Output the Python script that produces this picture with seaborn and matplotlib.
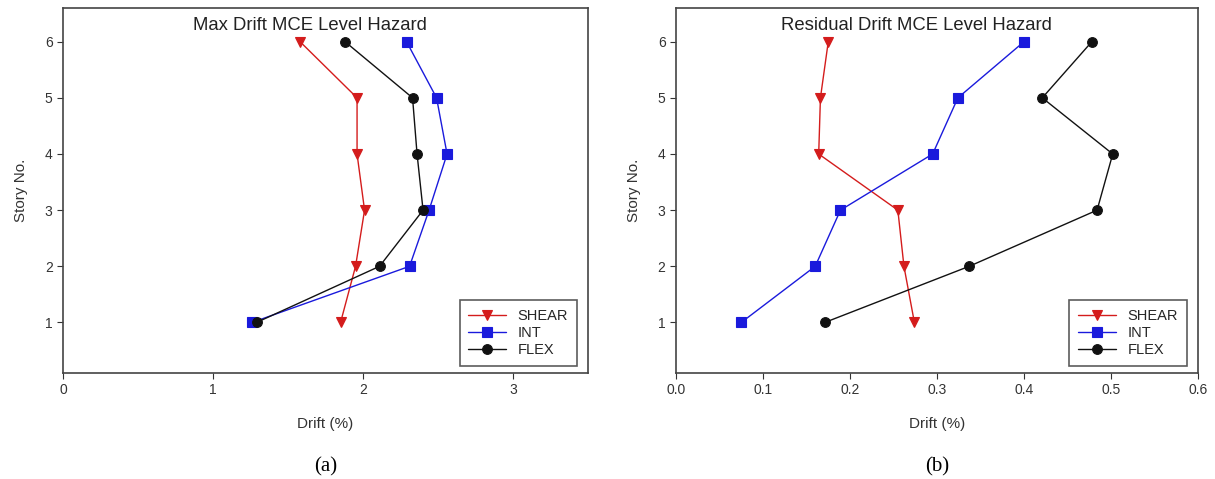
import numpy as np
import pandas as pd
import matplotlib
matplotlib.use("Agg")
import matplotlib.pyplot as plt
import seaborn as sns

sns.set_style("white")
plt.rcParams['font.family'] = ['Liberation Sans', 'DejaVu Sans']

stories = [6, 5, 4, 3, 2, 1]
systems = ["SHEAR", "INT", "FLEX"]

# Max drift (%)
max_shear = [1.58, 1.96, 1.96, 2.01, 1.95, 1.85]
max_int = [2.29, 2.49, 2.56, 2.44, 2.31, 1.26]
max_flex = [1.88, 2.33, 2.36, 2.40, 2.11, 1.29]

# Residual drift (%)
res_shear = [0.175, 0.166, 0.164, 0.255, 0.262, 0.274]
res_int = [0.400, 0.324, 0.295, 0.189, 0.160, 0.075]
res_flex = [0.478, 0.421, 0.502, 0.484, 0.337, 0.171]

colors = {"SHEAR": "#d41c1c", "INT": "#1a1adc", "FLEX": "#111111"}
markers = {"SHEAR": "v", "INT": "s", "FLEX": "o"}


def make_df(shear, intm, flex):
    rows = []
    for name, vals in zip(systems, [shear, intm, flex]):
        for s, v in zip(stories, vals):
            rows.append({"system": name, "story": s, "drift": v})
    return pd.DataFrame(rows)


df_max = make_df(max_shear, max_int, max_flex)
df_res = make_df(res_shear, res_int, res_flex)

fig = plt.figure(figsize=(12.15, 4.79), dpi=100)
ax1 = fig.add_axes([0.0519, 0.2213, 0.4321, 0.7620])
ax2 = fig.add_axes([0.5564, 0.2213, 0.4296, 0.7620])

panels = [
    (ax1, df_max, "Max Drift MCE Level Hazard", 0.47, (0, 3.5), [0, 1, 2, 3], ["0", "1", "2", "3"], "(a)"),
    (ax2, df_res, "Residual Drift MCE Level Hazard", 0.46, (0, 0.6),
     [0.0, 0.1, 0.2, 0.3, 0.4, 0.5, 0.6], ["0.0", "0.1", "0.2", "0.3", "0.4", "0.5", "0.6"], "(b)"),
]

for ax, df, title, tx, xlim, xt, xtl, tag in panels:
    sns.lineplot(data=df, x="drift", y="story", hue="system", style="system",
                 palette=colors, markers=markers, dashes=False, sort=False,
                 estimator=None, ax=ax, linewidth=1.0, markersize=7,
                 markeredgewidth=0.8, markeredgecolor=None)
    for line in ax.get_lines():
        line.set_markeredgecolor(line.get_color())
    ax.set_xlim(*xlim)
    ax.set_ylim(0.1, 6.6)
    ax.set_xticks(xt)
    ax.set_xticklabels(xtl)
    ax.set_yticks([1, 2, 3, 4, 5, 6])
    ax.tick_params(axis="both", direction="out", length=4, width=0.8, labelsize=10,
                   bottom=True, left=True, colors="#333333", labelcolor="#333333")
    for sp in ax.spines.values():
        sp.set_color("#444444")
        sp.set_linewidth(1.2)
    ax.set_xlabel("Drift (%)", fontsize=11, color="#333333", labelpad=14)
    ax.set_ylabel("Story No.", fontsize=11, color="#333333", labelpad=12)
    ax.text(tx, 0.975, title, transform=ax.transAxes, ha="center", va="top",
            fontsize=13.3, color="#222222")
    leg = ax.legend(loc="lower right", fontsize=10.5, frameon=True, fancybox=False,
                    edgecolor="#333333", borderpad=0.6, handlelength=2.6,
                    labelspacing=0.2, bbox_to_anchor=(0.993, 0.0))
    leg.get_frame().set_linewidth(1.2)
    ax.text(0.5, -0.23, tag, transform=ax.transAxes, ha="center", va="top",
            fontsize=15, family="Liberation Serif", color="black")

fig.savefig("out.png", dpi=100)
